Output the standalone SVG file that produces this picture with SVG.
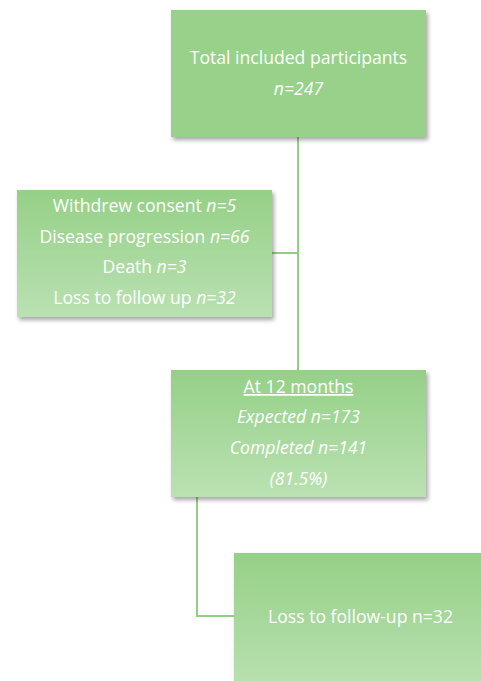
<svg xmlns="http://www.w3.org/2000/svg" width="481" height="681" viewBox="0 0 481 681">
<style>
.t{font-family:"Open Sans","Liberation Sans",sans-serif;font-size:17.6px;fill:#ffffff;text-anchor:middle}
.i{font-style:italic}
.c{stroke:#92cf86;stroke-width:2;fill:none}
</style>
<defs>
<linearGradient id="g" x1="0" y1="0" x2="0" y2="1">
<stop offset="0" stop-color="#95d087"/>
<stop offset="1" stop-color="#bae1b2"/>
</linearGradient>
<filter id="sh" x="-10%" y="-10%" width="125%" height="130%">
<feDropShadow dx="2" dy="3" stdDeviation="2" flood-color="#000" flood-opacity="0.35"/>
</filter>
</defs>
<rect width="481" height="681" fill="#fff"/>
<g id="connectors">
<path class="c" d="M298 137V370"/>
<path class="c" d="M272 253H298"/>
<path class="c" d="M197 497V616H234"/>
</g>
<g id="n1">
<rect x="171" y="10" width="255" height="127" fill="#97d18a" filter="url(#sh)"/>
<text class="t" x="298.5" y="64">Total included participants</text>
<text class="t i" x="298.5" y="95">n=247</text>
</g>
<g id="n2">
<rect x="17" y="190" width="255" height="127" fill="url(#g)" filter="url(#sh)"/>
<text class="t" x="144.5" y="212">Withdrew consent <tspan class="i">n=5</tspan></text>
<text class="t" x="144.5" y="243">Disease progression <tspan class="i">n=66</tspan></text>
<text class="t" x="144.5" y="273">Death <tspan class="i">n=3</tspan></text>
<text class="t" x="144.5" y="304">Loss to follow up <tspan class="i">n=32</tspan></text>
</g>
<g id="n3">
<rect x="171" y="370" width="255" height="127" fill="url(#g)" filter="url(#sh)"/>
<text class="t" x="298.5" y="393" text-decoration="underline">At 12 months</text>
<text class="t i" x="298.5" y="423">Expected n=173</text>
<text class="t i" x="298.5" y="454">Completed n=141</text>
<text class="t i" x="298.5" y="485">(81.5%)</text>
</g>
<g id="n4">
<rect x="234" y="553" width="260" height="140" fill="url(#g)" filter="url(#sh)"/>
<text class="t" x="360.5" y="623">Loss to follow-up n=32</text>
</g>
</svg>
